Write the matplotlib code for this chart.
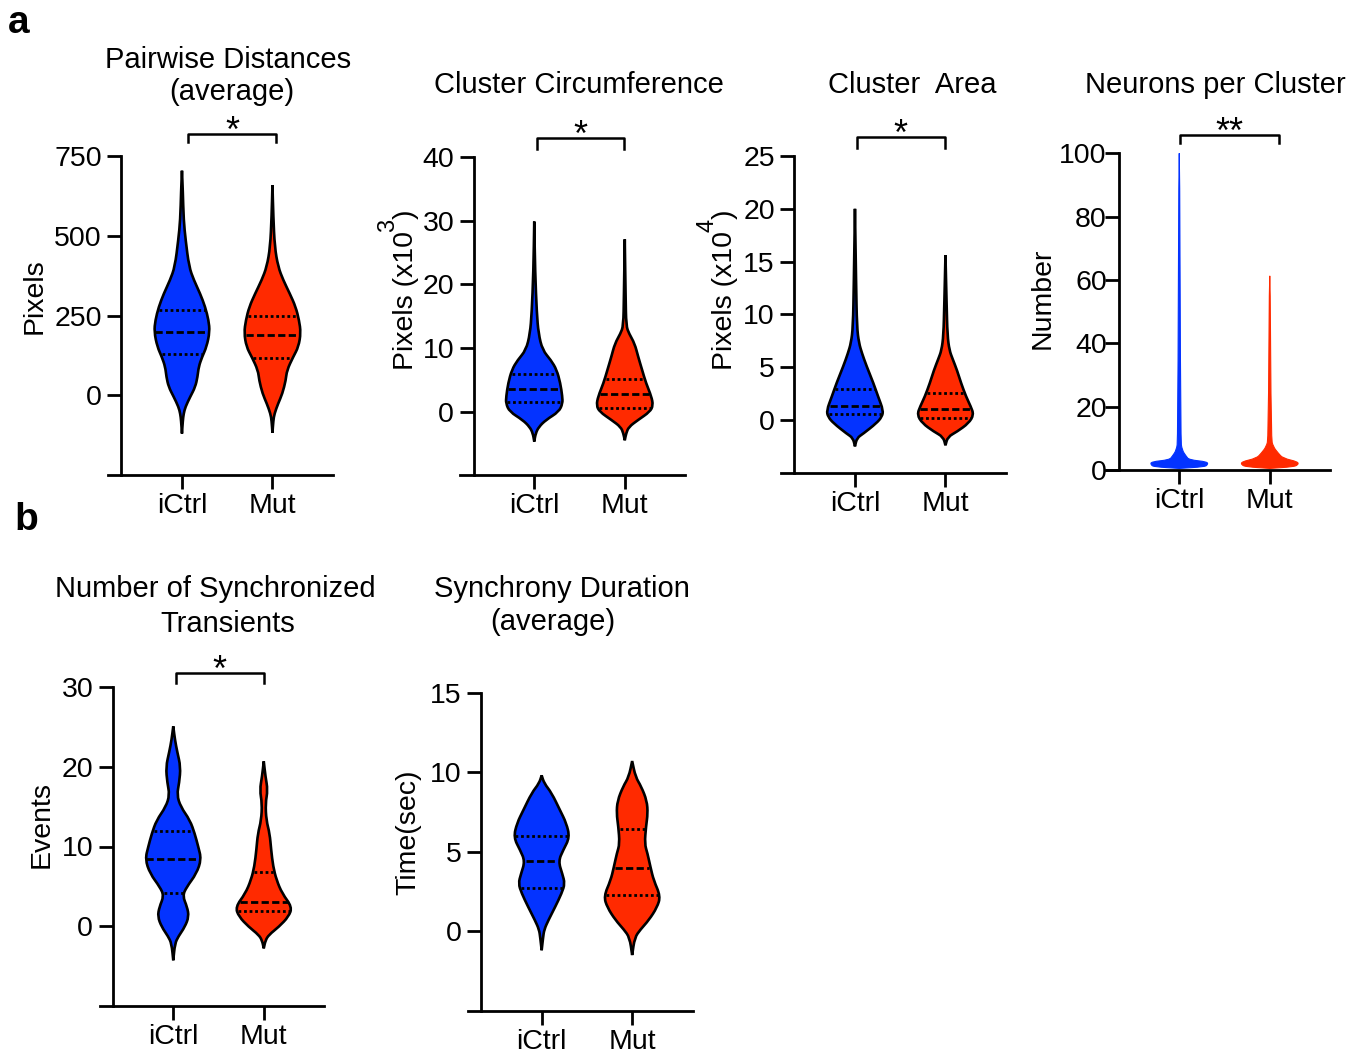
import matplotlib
matplotlib.use('Agg')
import matplotlib.pyplot as plt
import numpy as np
from matplotlib.path import Path
from matplotlib.patches import PathPatch

plt.rcParams['font.family'] = ['Liberation Sans', 'DejaVu Sans']
plt.rcParams['mathtext.fontset'] = 'custom'
plt.rcParams['mathtext.rm'] = 'Liberation Sans'
plt.rcParams['mathtext.default'] = 'regular'

groups = ['iCtrl', 'Mut']
BLUE = '#0433FF'
RED = '#FF2A00'

# violin outlines: value levels and relative density (1 = widest)
# Pairwise Distances (pixels)
pw_ctrl_y = [704, 640, 549, 486, 403, 361, 319, 277, 235, 199, 152, 120, 89, 58, 26, -5, -37, -58, -80, -120]
pw_ctrl_d = [0, .03, .06, .13, .25, .42, .64, .82, .94, .98, .87, .71, .59, .55, .47, .29, .12, .06, .03, 0]
pw_ctrl_q = [128, 197, 266]
pw_mut_y = [659, 560, 465, 403, 361, 319, 277, 235, 196, 152, 120, 78, 47, 5, -26, -58, -80, -118]
pw_mut_d = [0, .03, .08, .2, .38, .61, .82, .94, 1.0, .92, .73, .51, .47, .35, .2, .07, .03, 0]
pw_mut_q = [116, 188, 248]

# Cluster circumference (x10^3 pixels)
cc_ctrl_y = [29.9, 22, 15.5, 12.3, 9.7, 8.1, 6.6, 4.5, 2.4, 1.3, 0, -1.3, -2.4, -3.4, -4.7]
cc_ctrl_d = [0, .03, .09, .15, .29, .59, .79, .92, .99, 1.0, .87, .41, .16, .05, 0]
cc_ctrl_q = [1.5, 3.5, 6.0]
cc_mut_y = [27.1, 18, 13.5, 12.3, 10.7, 8.7, 6.6, 4.5, 2.4, 1.0, 0, -1.3, -2.4, -3.4, -4.5]
cc_mut_d = [0, .03, .05, .15, .35, .47, .61, .75, .94, 1.0, .89, .47, .14, .05, 0]
cc_mut_q = [0.6, 2.8, 5.1]

# Cluster area (x10^4 pixels)
ca_ctrl_y = [20.0, 12.9, 8.8, 7.3, 6.3, 5.1, 3.5, 2.2, 0.9, 0.3, -0.3, -1.3, -1.7, -2.5]
ca_ctrl_d = [0, .04, .07, .14, .25, .41, .65, .82, 1.0, .95, .76, .29, .07, 0]
ca_ctrl_q = [0.54, 1.36, 2.9]
ca_mut_y = [15.6, 11.0, 8.0, 6.6, 5.8, 4.7, 3.5, 2.2, 1.3, 0.5, -0.3, -1.1, -1.6, -2.4]
ca_mut_d = [0, .04, .07, .14, .25, .41, .55, .73, .89, 1.0, .82, .41, .08, 0]
ca_mut_q = [0.22, 1.0, 2.6]

# Neurons per cluster
nc_ctrl_y = [100, 9.5, 6.3, 4.4, 3.2, 2.6, 1.6, 1.0, 0.5]
nc_ctrl_d = [.015, .05, .1, .24, .35, 1.0, 1.0, .88, 0]
nc_mut_y = [61.3, 10, 7.4, 5.3, 3.7, 2.6, 1.6, 1.0, 0.5]
nc_mut_d = [.015, .05, .12, .3, .47, 1.0, 1.0, .82, 0]

# Number of synchronized transients (events)
st_ctrl_y = [25.1, 23.4, 21.9, 20.0, 18.0, 16.5, 15.0, 13.3, 11.6, 10.0, 8.4, 6.6, 4.9, 3.8, 2.4, 1.2, -0.1, -1.3, -2.2, -4.3]
st_ctrl_d = [0, .06, .14, .26, .21, .13, .26, .59, .76, .88, .99, .82, .47, .33, .49, .55, .41, .18, .06, 0]
st_ctrl_q = [4.2, 8.4, 11.9]
st_mut_y = [20.7, 18.8, 17.1, 15.4, 13.3, 11.6, 9.6, 7.5, 5.8, 4.1, 2.4, 1.2, -0.1, -1.1, -1.8, -2.8]
st_mut_d = [0, .06, .14, .06, .09, .21, .26, .33, .45, .65, 1.0, .88, .53, .18, .06, 0]
st_mut_q = [1.9, 3.0, 6.8]

# Synchrony duration (sec)
sd_ctrl_y = [9.8, 9.3, 8.7, 7.6, 6.8, 5.9, 5.1, 4.4, 3.6, 3.0, 2.4, 1.5, 0.7, 0.1, -0.4, -1.2]
sd_ctrl_d = [0, .09, .35, .65, .87, .99, .76, .59, .73, .82, .71, .47, .24, .09, .05, 0]
sd_ctrl_q = [2.7, 4.4, 6.0]
sd_mut_y = [10.7, 9.7, 9.1, 8.2, 7.4, 6.6, 5.5, 4.9, 4.0, 3.2, 2.2, 1.5, 0.7, 0.1, -0.4, -1.5]
sd_mut_d = [0, .12, .32, .52, .55, .49, .44, .54, .65, .76, 1.0, .88, .59, .29, .09, 0]
sd_mut_q = [2.3, 4.0, 6.4]

W, H = 1365, 1053
HALF = 0.313
fig = plt.figure(figsize=(W / 100, H / 100), dpi=100)


def panel(cx, top, bottom):
    # axes placed by pixel position of the first category and the axis extents
    left = cx - 73.8
    return fig.add_axes([left / W, 1 - bottom / H, 224.9 / W, (bottom - top) / H])


def ftext(x, y, s, **kw):
    return fig.text(x / W, 1 - y / H, s, **kw)


def setup(ax, lo, hi, ticks, ypad=4):
    ax.set_xlim(0.185, 2.67)
    ax.set_ylim(lo, hi)
    ax.patch.set_visible(False)
    ax.spines[['top', 'right']].set_visible(False)
    ax.spines['left'].set_position(('data', 0.33))
    ax.spines['left'].set_bounds(lo, hi)
    for s in ax.spines.values():
        s.set_linewidth(2.0)
    ax.set_yticks(ticks)
    ax.set_xticks([1, 2], groups)
    ax.tick_params(length=10, width=2.0, labelsize=20.5, colors='black')
    ax.tick_params(axis='y', pad=ypad)
    ax.tick_params(axis='x', pad=3)


def violin(ax, pos, y, d, quart, color, outline=True):
    y = np.asarray(y, float)
    hw = np.asarray(d, float) * HALF
    # closed outline, drawn as a smooth quadratic-bezier path through the read points
    pts = np.column_stack([np.r_[pos + hw, (pos - hw)[::-1]], np.r_[y, y[::-1]]])
    mids = (pts + np.roll(pts, -1, axis=0)) / 2
    verts = [mids[-1]]
    codes = [Path.MOVETO]
    for p, m in zip(pts, mids):
        verts += [p, m]
        codes += [Path.CURVE3, Path.CURVE3]
    verts.append(mids[-1])
    codes.append(Path.CLOSEPOLY)
    ec, lw = ('black', 1.9) if outline else (color, 0.8)
    ax.add_patch(PathPatch(Path(verts, codes), facecolor=color, edgecolor=ec,
                           lw=lw, clip_on=False, zorder=2))
    ys, ws = y[::-1], hw[::-1]
    for k, q in enumerate(quart):
        w = np.interp(q, ys, ws) - 0.012
        style = (0, (2.6, 1.2)) if k == 1 else (0, (1, 1))
        ax.plot([pos - w, pos + w], [q, q], color='black', lw=2.0,
                linestyle=style, zorder=3, solid_capstyle='butt')


def bracket(ax, x0, x1, y0, y1, label):
    ax.plot([x0, x0, x1, x1], [y0, y1, y1, y0], color='black', lw=1.8, clip_on=False)
    ax.annotate(label, ((x0 + x1) / 2, y1), xytext=(0, 1), textcoords='offset points',
                ha='center', va='center', fontsize=26, annotation_clip=False)


def sup_label(xb, ystart, main, sup, tail, size=20.5):
    # rotated axis label with a large raised exponent, laid out piece by piece
    r = fig.canvas.get_renderer()
    kw = dict(rotation=90, rotation_mode='anchor', ha='left', va='baseline')
    t = ftext(xb, ystart, main, fontsize=size, **kw)
    end = H - t.get_window_extent(r).y1
    s = ftext(xb - 19, end + 1, sup, fontsize=17, **kw)
    end2 = H - s.get_window_extent(r).y1
    ftext(xb, end2, tail, fontsize=size, **kw)


# a: Pairwise distances
ax = panel(182, 156, 475)
setup(ax, -250, 750, [0, 250, 500, 750])
violin(ax, 1, pw_ctrl_y, pw_ctrl_d, pw_ctrl_q, BLUE)
violin(ax, 2, pw_mut_y, pw_mut_d, pw_mut_q, RED)
bracket(ax, 1.07, 2.04, 795, 818, '*')

# Cluster circumference
ax = panel(534.3, 157.3, 475.3)
setup(ax, -10, 40, [0, 10, 20, 30, 40])
violin(ax, 1, cc_ctrl_y, cc_ctrl_d, cc_ctrl_q, BLUE)
violin(ax, 2, cc_mut_y, cc_mut_d, cc_mut_q, RED)
bracket(ax, 1.03, 1.99, 41.3, 43.0, '*')

# Cluster area
ax = panel(855, 156, 472.8)
setup(ax, -5, 25, [0, 5, 10, 15, 20, 25])
violin(ax, 1, ca_ctrl_y, ca_ctrl_d, ca_ctrl_q, BLUE)
violin(ax, 2, ca_mut_y, ca_mut_d, ca_mut_q, RED)
bracket(ax, 1.02, 1.99, 25.8, 26.8, '*')

# Neurons per cluster
ax = panel(1179.3, 153.3, 470)
setup(ax, 0, 100, [0, 20, 40, 60, 80, 100], ypad=-1.5)
violin(ax, 1, nc_ctrl_y, nc_ctrl_d, [], BLUE, outline=False)
violin(ax, 2, nc_mut_y, nc_mut_d, [], RED, outline=False)
bracket(ax, 1.01, 2.1, 103.2, 105.8, '**')

# b: Synchronized transients
ax = panel(173.3, 687.3, 1005.7)
setup(ax, -10, 30, [0, 10, 20, 30])
violin(ax, 1, st_ctrl_y, st_ctrl_d, st_ctrl_q, BLUE)
violin(ax, 2, st_mut_y, st_mut_d, st_mut_q, RED)
bracket(ax, 1.03, 2.0, 30.6, 31.8, '*')

# Synchrony duration
ax = panel(541.7, 692.7, 1010.7)
setup(ax, -5, 15, [0, 5, 10, 15])
violin(ax, 1, sd_ctrl_y, sd_ctrl_d, sd_ctrl_q, BLUE)
violin(ax, 2, sd_mut_y, sd_mut_d, sd_mut_q, RED)

# titles
tkw = dict(ha='center', va='baseline', fontsize=21)
ftext(228, 68, 'Pairwise Distances', **tkw)
ftext(232, 100, '(average)', **tkw)
ftext(579, 93, 'Cluster Circumference', **tkw)
ftext(912, 93, 'Cluster  Area', **tkw)
ftext(1215, 93, 'Neurons per Cluster', **tkw)
ftext(215, 597, 'Number of Synchronized', **tkw)
ftext(228, 632, 'Transients', **tkw)
ftext(562, 597, 'Synchrony Duration', **tkw)
ftext(553, 630, '(average)', **tkw)

# y labels
lkw = dict(ha='center', va='center', rotation=90, fontsize=20.5)
ftext(35, 296, 'Pixels', **lkw)
sup_label(413, 370, 'Pixels (x10', '3', ')')
sup_label(732, 370, 'Pixels (x10', '4', ')')
ftext(1043, 298, 'Number', **lkw)
ftext(42, 825, 'Events', **lkw)
ftext(408, 832, 'Time(sec)', **lkw)

# panel letters
ftext(8, 33, 'a', ha='left', va='baseline', fontsize=28, fontweight='bold')
ftext(14, 530, 'b', ha='left', va='baseline', fontsize=28, fontweight='bold')

fig.savefig('out.png', dpi=100)
